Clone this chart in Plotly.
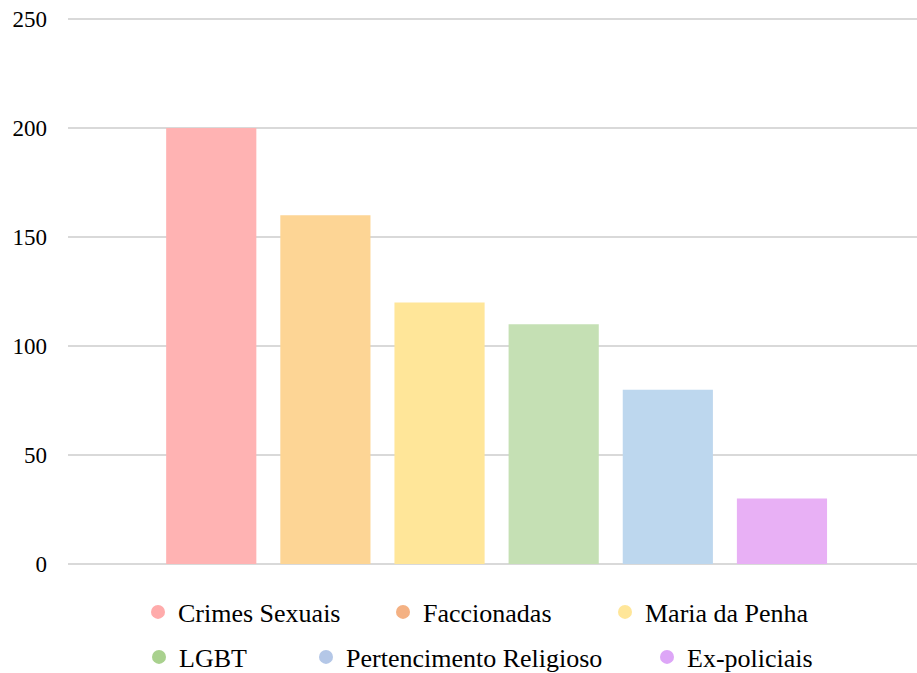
import plotly.graph_objects as go

categories = ["Crimes Sexuais", "Faccionadas", "Maria da Penha", "LGBT",
              "Pertencimento Religioso", "Ex-policiais"]
values = [200, 160, 120, 110, 80, 30]
bar_colors = ["#FFB3B3", "#FDD595", "#FFE699", "#C5E0B4", "#BDD7EE", "#E8B0F5"]
legend_colors = ["#FFABAB", "#F4B183", "#FFE699", "#A9D18E", "#B4C7E7", "#DDA6F7"]
y_ticks = [0, 50, 100, 150, 200, 250]

# legend item symbol centres in pixels (x, y)
legend_px = [(158, 612), (403, 612), (625, 612), (159, 657), (326, 657), (667, 657)]

W, H = 917, 673
ML, MR, MT, MB = 68, 0, 18, 109
PW, PH = W - ML - MR, H - MT - MB

fig = go.Figure()
for i, (c, v) in enumerate(zip(categories, values)):
    fig.add_trace(go.Bar(x=[c], y=[v], marker=dict(color=bar_colors[i], line=dict(width=0)),
                         width=0.79, showlegend=False, hoverinfo="y"))

layout_legends = {}
for i, c in enumerate(categories):
    lname = "legend" if i == 0 else f"legend{i+1}"
    fig.add_trace(go.Scatter(x=[None], y=[None], mode="markers", name=c,
                             marker=dict(symbol="circle", size=14, color=legend_colors[i]),
                             legend=lname, showlegend=True))
    px, py = legend_px[i]
    layout_legends[lname] = dict(
        x=(px - 20 - ML) / PW, xanchor="left",
        y=(H - MB - py) / PH, yanchor="middle",
        bgcolor="rgba(0,0,0,0)", borderwidth=0,
        font=dict(family="Liberation Serif", size=26, color="#000000"),
    )

fig.update_layout(
    width=W, height=H,
    margin=dict(l=ML, r=MR, t=MT, b=MB, autoexpand=False),
    paper_bgcolor="white", plot_bgcolor="white",
    barmode="overlay",
    font=dict(family="Liberation Serif", size=23, color="#000000"),
    xaxis=dict(type="category", categoryorder="array", categoryarray=categories,
               range=[-1.255, 6.183], showticklabels=False, showgrid=False,
               zeroline=False, showline=False, ticks=""),
    yaxis=dict(range=[0, 250.5], tickvals=y_ticks, showgrid=True, gridcolor="#D9D9D9",
               gridwidth=1.5, zeroline=True, zerolinecolor="#D9D9D9", zerolinewidth=1.5,
               showline=False, ticks="", ticklabelstandoff=20,
               tickfont=dict(family="Liberation Serif", size=23, color="#000000")),
    **layout_legends,
)

fig.write_html("out.html")
